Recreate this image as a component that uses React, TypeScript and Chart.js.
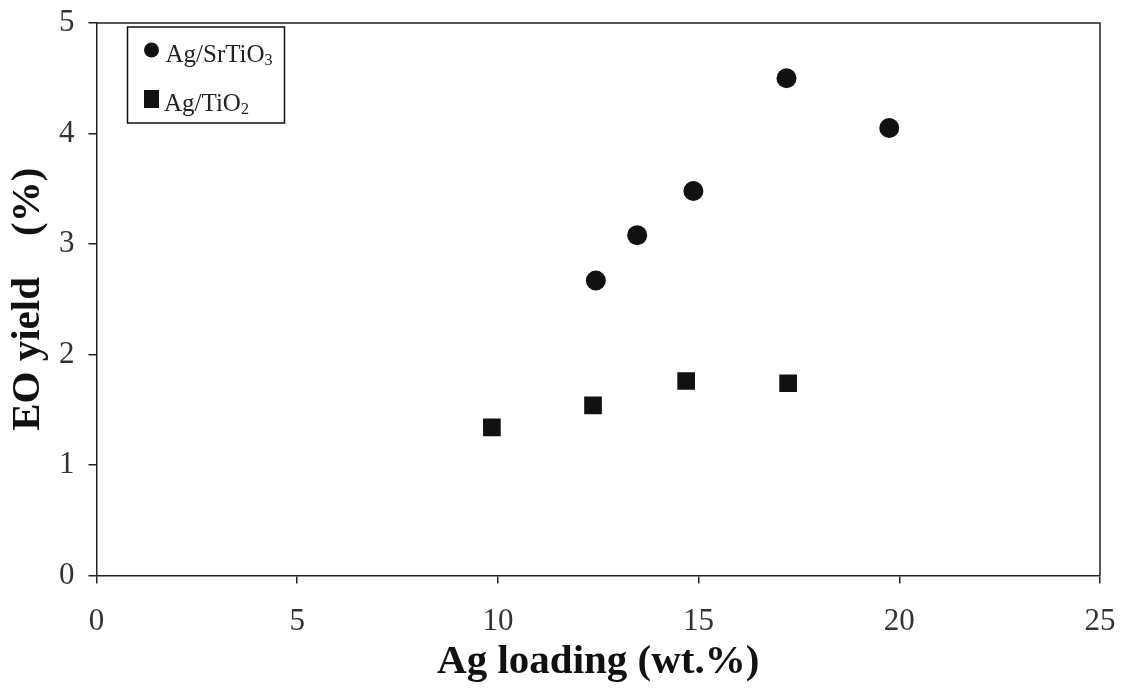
import { useEffect, useRef } from 'react';
import { Chart, registerables } from 'chart.js';

Chart.register(...registerables);

// ---- data ----
const seriesNames = ['Ag/SrTiO₃', 'Ag/TiO₂'];
const srTiO3Loading = [12.44, 13.47, 14.87, 17.19, 19.75];
const srTiO3Yield = [2.67, 3.08, 3.48, 4.5, 4.05];
const tiO2Loading = [9.85, 12.37, 14.69, 17.23];
const tiO2Yield = [1.34, 1.54, 1.76, 1.74];
const xTicks = [0, 5, 10, 15, 20, 25];
const yTicks = [0, 1, 2, 3, 4, 5];
const xTitle = 'Ag loading (wt.%)';
const yTitle = 'EO yield    (%)';

const SERIF = "'Liberation Serif', 'Times New Roman', 'DejaVu Serif', serif";
const INK = '#111111';
const AXIS = '#222222';
const TICK_TEXT = '#333333';

const SUBS: Record<string, string> = {
  '₀': '0', '₁': '1', '₂': '2', '₃': '3', '₄': '4',
  '₅': '5', '₆': '6', '₇': '7', '₈': '8', '₉': '9',
};

function drawRichText(ctx: CanvasRenderingContext2D, text: string, x: number, y: number) {
  const runs: { t: string; sub: boolean }[] = [];
  for (const ch of text) {
    const sub = ch in SUBS;
    const c = sub ? SUBS[ch] : ch;
    const last = runs[runs.length - 1];
    if (last && last.sub === sub) last.t += c;
    else runs.push({ t: c, sub });
  }
  let cx = x;
  ctx.textAlign = 'left';
  ctx.textBaseline = 'alphabetic';
  for (const r of runs) {
    ctx.font = r.sub ? `16px ${SERIF}` : `25px ${SERIF}`;
    ctx.fillText(r.t, cx, r.sub ? y + 3.5 : y);
    cx += ctx.measureText(r.t).width;
  }
}

const framePlugin = {
  id: 'frame',
  afterDatasetsDraw(chart: any) {
    const { ctx, chartArea } = chart;
    ctx.save();
    ctx.strokeStyle = AXIS;
    ctx.lineWidth = 1.5;
    ctx.beginPath();
    ctx.moveTo(chartArea.left, chartArea.top);
    ctx.lineTo(chartArea.right, chartArea.top);
    ctx.lineTo(chartArea.right, chartArea.bottom);
    ctx.stroke();
    ctx.restore();
  },
};

const boxLegendPlugin = {
  id: 'boxLegend',
  afterDraw(chart: any) {
    const { ctx, chartArea } = chart;
    const bx = chartArea.left + 31;
    const by = chartArea.top + 4;
    const bw = 157;
    const bh = 96;
    ctx.save();
    ctx.fillStyle = '#ffffff';
    ctx.fillRect(bx, by, bw, bh);
    ctx.strokeStyle = INK;
    ctx.lineWidth = 1.5;
    ctx.strokeRect(bx, by, bw, bh);
    chart.data.datasets.forEach((ds: any, i: number) => {
      const my = by + 23 + i * 49;
      const mx = bx + 24;
      ctx.fillStyle = ds.backgroundColor;
      if (ds.pointStyle === 'circle') {
        ctx.beginPath();
        ctx.arc(mx, my, 7.5, 0, Math.PI * 2);
        ctx.fill();
      } else {
        ctx.fillRect(mx - 7.5, my - 9, 15, 18);
      }
      ctx.fillStyle = '#222222';
      drawRichText(ctx, ds.label, bx + 38 - i * 1.5, my + 11.5);
    });
    ctx.restore();
  },
};

export default function App() {
  const canvasRef = useRef<HTMLCanvasElement | null>(null);

  useEffect(() => {
    if (!canvasRef.current) return;
    const chart = new Chart(canvasRef.current, {
      type: 'scatter',
      data: {
        datasets: [
          {
            label: seriesNames[0],
            data: srTiO3Loading.map((x, i) => ({ x, y: srTiO3Yield[i] })),
            pointStyle: 'circle',
            pointRadius: 10,
            pointHoverRadius: 10,
            backgroundColor: INK,
            borderWidth: 0,
            showLine: false,
          },
          {
            label: seriesNames[1],
            data: tiO2Loading.map((x, i) => ({ x, y: tiO2Yield[i] })),
            pointStyle: 'rect',
            pointRadius: 12.5,
            pointHoverRadius: 12.5,
            backgroundColor: INK,
            borderWidth: 0,
            showLine: false,
          },
        ],
      },
      options: {
        animation: false,
        responsive: true,
        maintainAspectRatio: false,
        layout: { padding: { left: 0, right: 21, top: 23, bottom: 0 } },
        plugins: {
          legend: { display: false },
          tooltip: { enabled: false },
        },
        scales: {
          x: {
            type: 'linear',
            min: 0,
            max: 25,
            afterBuildTicks: (s: any) => {
              s.ticks = xTicks.map((v) => ({ value: v }));
            },
            afterFit: (s: any) => {
              s.height = 116.5;
              s.paddingLeft = 0;
              s.paddingRight = 0;
            },
            ticks: {
              font: { family: SERIF, size: 31 },
              color: TICK_TEXT,
              padding: 20,
              maxRotation: 0,
              autoSkip: false,
            },
            grid: {
              display: true,
              drawOnChartArea: false,
              drawTicks: true,
              tickLength: 8,
              color: AXIS,
              lineWidth: 1.5,
            },
            border: { display: true, color: AXIS, width: 1.5 },
            title: {
              display: true,
              text: xTitle,
              color: INK,
              font: { family: SERIF, size: 41, weight: 'bold' },
              padding: { top: 0, bottom: 4.5 },
            },
          },
          y: {
            type: 'linear',
            min: 0,
            max: 5,
            afterBuildTicks: (s: any) => {
              s.ticks = yTicks.map((v) => ({ value: v }));
            },
            afterFit: (s: any) => {
              s.width = 96.5;
              s.paddingTop = 0;
              s.paddingBottom = 0;
            },
            ticks: {
              font: { family: SERIF, size: 31 },
              color: TICK_TEXT,
              padding: 14,
            },
            grid: {
              display: true,
              drawOnChartArea: false,
              drawTicks: true,
              tickLength: 8,
              color: AXIS,
              lineWidth: 1.5,
            },
            border: { display: true, color: AXIS, width: 1.5 },
            title: {
              display: true,
              text: yTitle,
              color: INK,
              font: { family: SERIF, size: 41, weight: 'bold' },
              padding: { top: 3.5, bottom: 0 },
            },
          },
        },
      },
      plugins: [framePlugin, boxLegendPlugin],
    } as any);
    return () => chart.destroy();
  }, []);

  return (
    <div style={{ position: 'absolute', left: 0, top: 0, width: 1121, height: 692, background: '#ffffff' }}>
      <canvas ref={canvasRef} />
    </div>
  );
}
